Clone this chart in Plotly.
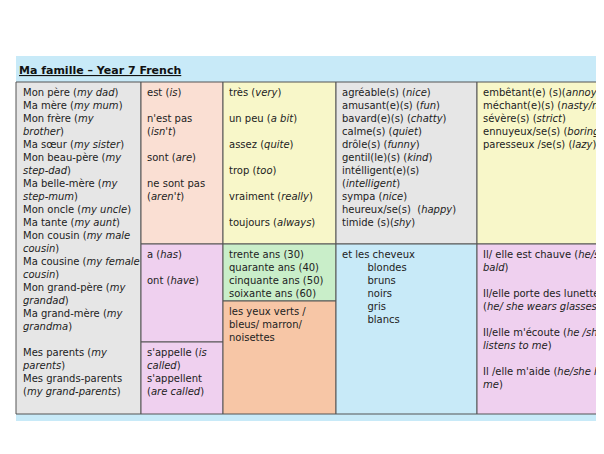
import plotly.graph_objects as go

title = "Ma famille – Year 7 French"

people = ["Mon père (<i>my dad</i>)", "Ma mère (<i>my mum</i>)", "Mon frère (<i>my</i>", "<i>brother</i>)",
          "Ma sœur (<i>my sister</i>)", "Mon beau-père (<i>my</i>", "<i>step-dad</i>)",
          "Ma belle-mère (<i>my</i>", "<i>step-mum</i>)", "Mon oncle (<i>my uncle</i>)",
          "Ma tante (<i>my aunt</i>)", "Mon cousin (<i>my male</i>", "<i>cousin</i>)",
          "Ma cousine (<i>my female</i>", "<i>cousin</i>)", "Mon grand-père (<i>my</i>",
          "<i>grandad</i>)", "Ma grand-mère (<i>my</i>", "<i>grandma</i>)", "",
          "Mes parents (<i>my</i>", "<i>parents</i>)", "Mes grands-parents", "(<i>my grand-parents</i>)"]
verbs_etre = ["est (<i>is</i>)", "", "n'est pas", "(<i>isn't</i>)", "", "sont (<i>are</i>)", "",
              "ne sont pas", "(<i>aren't</i>)"]
adverbs = ["très (<i>very</i>)", "", "un peu (<i>a bit</i>)", "", "assez (<i>quite</i>)", "",
           "trop (<i>too</i>)", "", "vraiment (<i>really</i>)", "", "toujours (<i>always</i>)"]
adj_pos = ["agréable(s) (<i>nice</i>)", "amusant(e)(s) (<i>fun</i>)", "bavard(e)(s) (<i>chatty</i>)",
           "calme(s) (<i>quiet</i>)", "drôle(s) (<i>funny</i>)", "gentil(le)(s) (<i>kind</i>)",
           "intélligent(e)(s)", "(<i>intelligent</i>)", "sympa (<i>nice</i>)",
           "heureux/se(s)  (<i>happy</i>)", "timide (s)(<i>shy</i>)"]
adj_neg = ["embêtant(e) (s)(<i>annoying</i>)", "méchant(e)(s) (<i>nasty/mean</i>)",
           "sévère(s) (<i>strict</i>)", "ennuyeux/se(s) (<i>boring</i>)", "paresseux /se(s) (<i>lazy</i>)"]
verbs_avoir = ["a (<i>has</i>)", "", "ont (<i>have</i>)"]
verbs_nom = ["s'appelle (<i>is</i>", "<i>called</i>)", "s'appellent", "(<i>are called</i>)"]
ages = ["trente ans (30)", "quarante ans (40)", "cinquante ans (50)", "soixante ans (60)"]
eyes = ["les yeux verts /", "bleus/ marron/", "noisettes"]
hair = ["et les cheveux", "    blondes", "    bruns", "    noirs", "    gris", "    blancs"]
extras = ["Il/ elle est chauve (<i>he/she</i>", "<i>bald</i>)", "",
          "Il/elle porte des lunettes", "(<i>he/ she wears glasses</i>)", "",
          "Il/elle m'écoute (<i>he /she</i>", "<i>listens to me</i>)", "",
          "Il /elle m'aide (<i>he/she helps</i>", "<i>me</i>)"]

# cell boxes: x0, y0, x1, y1 (pixels), fill, text
grey, peach, yellow, pink, green, orange, blue = (
    "#e6e6e6", "#fadfd3", "#f8f7c9", "#efd0ef", "#c9eec9", "#f7c6a6", "#c8eaf8")
cells = [
    (0, 66, 125, 398, grey, people),
    (125, 66, 207, 228, peach, verbs_etre),
    (207, 66, 320, 228, yellow, adverbs),
    (320, 66, 461, 228, grey, adj_pos),
    (461, 66, 620, 228, yellow, adj_neg),
    (125, 228, 207, 326, pink, verbs_avoir),
    (125, 326, 207, 398, pink, verbs_nom),
    (207, 228, 320, 285, green, ages),
    (207, 285, 320, 398, orange, eyes),
    (320, 228, 461, 398, blue, hair),
    (461, 228, 620, 398, pink, extras),
]

fig = go.Figure()
shapes = [dict(type="rect", xref="x", yref="y", x0=0, x1=620, y0=40, y1=405,
               fillcolor="#c8eaf8", line_width=0, layer="below")]
annotations = [dict(x=1, y=54, xref="x", yref="y", text="<b><u>" + title + "</u></b>",
                    showarrow=False, xanchor="left", yanchor="middle",
                    font=dict(size=11, color="#111"))]
for x0, y0, x1, y1, fill, lines in cells:
    shapes.append(dict(type="rect", xref="x", yref="y", x0=x0, x1=x1, y0=y0, y1=y1,
                       fillcolor=fill, line=dict(color="#555", width=1), layer="below"))
    txt = "<br>".join(l.replace("    ", "&nbsp;" * 8) if l else "&nbsp;" for l in lines)
    annotations.append(dict(x=x0 + 4, y=y0 + 3, xref="x", yref="y", text=txt,
                            showarrow=False, xanchor="left", yanchor="top", align="left",
                            font=dict(size=10, color="#222")))

# the page body adds an 8px offset, so the axes start at 8
fig.update_layout(width=604, height=454, margin=dict(l=0, r=0, t=0, b=0),
                  paper_bgcolor="white", plot_bgcolor="white",
                  font=dict(family="DejaVu Sans"),
                  shapes=shapes, annotations=annotations,
                  xaxis=dict(range=[-8, 596], visible=False, fixedrange=True),
                  yaxis=dict(range=[446, -8], visible=False, fixedrange=True),
                  showlegend=False)
fig.write_html("out.html")
